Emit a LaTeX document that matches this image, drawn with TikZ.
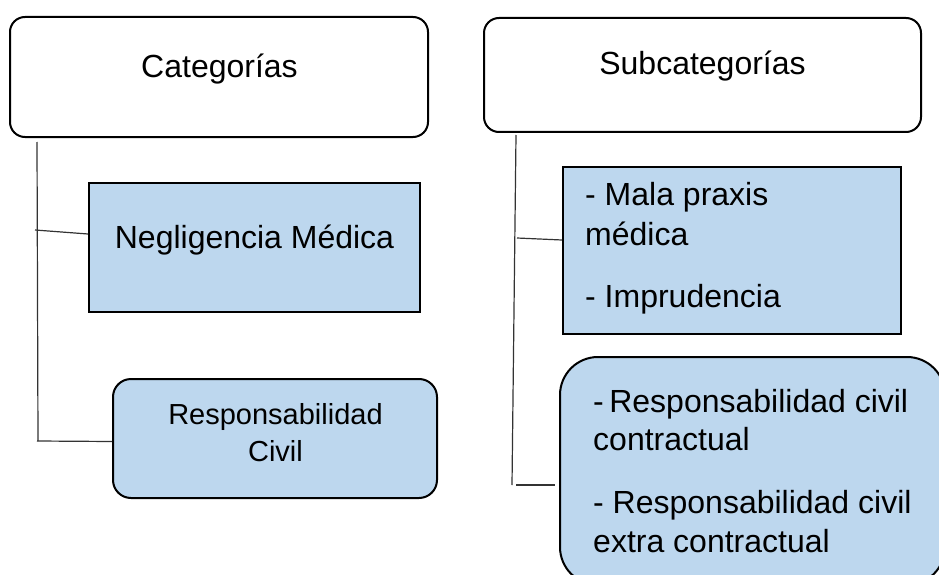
\documentclass[tikz,border=0pt]{standalone}
\usepackage{fontspec}
\setmainfont{Liberation Sans}
\definecolor{boxblue}{HTML}{BDD7EE}
\definecolor{linegray}{HTML}{333333}
\begin{document}
\begin{tikzpicture}[x=1pt,y=-1pt,
  box/.style={draw=black, line width=2pt, inner sep=0pt},
  bluebox/.style={box, fill=boxblue},
  conn/.style={draw=linegray, line width=1.2pt},
  big/.style={font=\fontsize{32}{38}\selectfont, inner sep=0pt},
  mid/.style={font=\fontsize{29}{35}\selectfont, inner sep=0pt}]
\useasboundingbox (0,0) rectangle (939,575);
\clip (0,0) rectangle (939,575);
% boxes
\node[box, rounded corners=15pt, minimum width=418pt, minimum height=120pt] (cat) at (219,77) {};
\node[box, rounded corners=15pt, minimum width=437pt, minimum height=114pt] (sub) at (702.5,75) {};
\node[bluebox, minimum width=331pt, minimum height=129pt] (neg) at (254.5,247.5) {};
\node[bluebox, rounded corners=18pt, minimum width=324pt, minimum height=119pt] (rc) at (275,438.5) {};
\node[bluebox, minimum width=338pt, minimum height=167pt] (mp) at (732,250.5) {};
\node[bluebox, rounded corners=38pt, minimum width=385pt, minimum height=228pt] (rcc) at (752.5,471) {};
% texts
\node[big, anchor=base] (catt) at (219.5,78) {Categorías};
\node[big, anchor=base] (subt) at (702.5,75) {Subcategorías};
\node[big, anchor=base] (negt) at (254.5,248) {Negligencia Médica};
\node[mid, anchor=base] (rct1) at (275.5,424) {Responsabilidad};
\node[mid, anchor=base] (rct2) at (275.5,461) {Civil};
\node[big, anchor=base west] (mpt1) at (585,205) {- Mala praxis};
\node[big, anchor=base west] (mpt2) at (585,245) {médica};
\node[big, anchor=base west] (mpt3) at (585,307) {- Imprudencia};
\node[big, anchor=base west] (rcct1) at (593,412) {-\kern5.5pt Responsabilidad civil};
\node[big, anchor=base west] (rcct2) at (593,450) {contractual};
\node[big, anchor=base west] (rcct3) at (593,513) {- Responsabilidad civil};
\node[big, anchor=base west] (rcct4) at (593,552) {extra contractual};
% connectors
\coordinate (lb) at (38,441);
\coordinate (ln) at (35,230);
\coordinate (lr) at (37,441);
\draw[conn] ([xshift=28pt,yshift=-4pt]cat.south west) -- (lb);
\draw[conn] (ln) -- ([yshift=13.5pt]neg.west);
\draw[conn] (lr) -- ([yshift=-3pt]rc.west);
\coordinate (rb) at (512,485);
\coordinate (rm) at (517,238);
\coordinate (rr) at (516,485);
\draw[conn] ([xshift=33pt,yshift=-2pt]sub.south west) -- (rb);
\draw[conn] (rm) -- ([yshift=10.5pt]mp.west);
\draw[conn] (rr) -- ([xshift=-4pt,yshift=-14pt]rcc.west);
\end{tikzpicture}
\end{document}
